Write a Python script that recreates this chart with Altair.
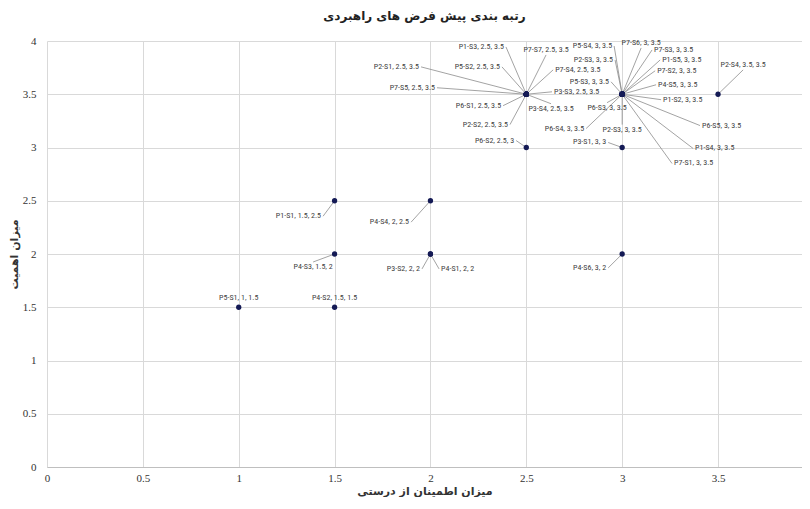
import altair as alt
import pandas as pd

# ---- data ----
names = ["P1-S3", "P2-S1", "P5-S2", "P7-S5", "P6-S1", "P2-S2", "P7-S7", "P7-S4", "P3-S3", "P3-S4",
         "P5-S4", "P7-S6", "P2-S3", "P7-S3", "P1-S5", "P7-S2", "P5-S3", "P4-S5", "P1-S2", "P6-S3",
         "P6-S4", "P2-S3", "P6-S5", "P1-S4", "P7-S1",
         "P3-S1", "P6-S2", "P2-S4", "P1-S1", "P4-S4", "P4-S3", "P3-S2", "P4-S1", "P4-S6", "P5-S1", "P4-S2"]
conf = [2.5, 2.5, 2.5, 2.5, 2.5, 2.5, 2.5, 2.5, 2.5, 2.5,
        3, 3, 3, 3, 3, 3, 3, 3, 3, 3,
        3, 3, 3, 3, 3,
        3, 2.5, 3.5, 1.5, 2, 1.5, 2, 2, 3, 1, 1.5]
imp = [3.5, 3.5, 3.5, 3.5, 3.5, 3.5, 3.5, 3.5, 3.5, 3.5,
       3.5, 3.5, 3.5, 3.5, 3.5, 3.5, 3.5, 3.5, 3.5, 3.5,
       3.5, 3.5, 3.5, 3.5, 3.5,
       3, 3, 3.5, 2.5, 2.5, 2, 2, 2, 2, 1.5, 1.5]

# label anchors (data units) where leader lines meet the labels
label_x = [2.394, 1.951, 2.373, 2.034, 2.379, 2.415, 2.603, 2.640, 2.634, 2.629,
           2.958, 3.099, 2.963, 3.156, 3.198, 3.172, 2.942, 3.177, 3.203, 2.921,
           2.812, 3.000, 3.406, 3.370, 3.260,
           2.927, 2.447, 3.631, 1.440, 1.899, 1.388, 1.956, 2.045, 2.927, 1.0, 1.5]
label_y = [3.944, 3.757, 3.757, 3.561, 3.393, 3.215, 3.869, 3.729, 3.523, 3.411,
           3.953, 3.935, 3.822, 3.916, 3.822, 3.720, 3.617, 3.589, 3.449, 3.421,
           3.178, 3.215, 3.206, 2.991, 2.850,
           3.047, 3.065, 3.729, 2.355, 2.299, 1.925, 1.860, 1.860, 1.869, 1.542, 1.542]
label_side = ["r", "r", "r", "r", "r", "r", "cb", "l", "l", "ct",
              "r", "cb", "r", "l", "l", "l", "r", "l", "l", "ct",
              "r", "ct", "l", "l", "l",
              "r", "r", "cb", "r", "r", "ct", "r", "l", "r", "cb", "cb"]
leader = [True] * 34 + [False, False]

x_ticks = [0, 0.5, 1, 1.5, 2, 2.5, 3, 3.5]
y_ticks = [0, 0.5, 1, 1.5, 2, 2.5, 3, 3.5, 4]

df = pd.DataFrame({
    "name": names, "x": conf, "y": imp,
    "lx": label_x, "ly": label_y, "side": label_side, "leader": leader,
})
df["text"] = [f"{n}, {a:g}, {b:g}" for n, a, b in zip(names, conf, imp)]

tick_font = "Liberation Serif, Times New Roman, DejaVu Serif, serif"
lab_font = "Liberation Sans Narrow, Roboto Condensed, Roboto, sans-serif"
fa_font = "DejaVu Sans"

xscale = alt.Scale(domain=[0, 3.938], nice=False, zero=False)
yscale = alt.Scale(domain=[0, 4], nice=False)

base = alt.Chart(df)

xenc = alt.X("x:Q", scale=xscale, axis=alt.Axis(
    values=x_ticks, format="~g", title="میزان اطمینان از درستی", titleFont=fa_font, titleFontSize=11,
    titleFontWeight="bold", titleColor="#333333", titleY=27, titleBaseline="alphabetic",
    labelFont=tick_font, labelFontSize=11, labelColor="#333333", labelPadding=5,
    ticks=False, domain=True, domainColor="#bfbfbf", grid=True, gridColor="#d9d9d9",
    labelFlush=False))
yenc = alt.Y("y:Q", scale=yscale, axis=alt.Axis(
    values=y_ticks, format="~g", title="میزان اهمیت", titleFont=fa_font, titleFontSize=11,
    titleFontWeight="bold", titleColor="#333333", titleX=-33, titleY=213, titleBaseline="middle",
    labelFont=tick_font, labelFontSize=11, labelColor="#333333", labelPadding=11,
    ticks=False, domain=False, grid=True, gridColor="#d9d9d9", labelFlush=False))

lines = base.transform_filter(alt.datum.leader).mark_rule(
    color="#8c8c8c", strokeWidth=0.8).encode(
    x=alt.X("x:Q", scale=xscale), y=alt.Y("y:Q", scale=yscale), x2="lx:Q", y2="ly:Q")

points = base.mark_circle(size=28, color="#141a55", opacity=1).encode(x=xenc, y=yenc)


def labels(side, align, baseline, dx, dy):
    return base.transform_filter(alt.datum.side == side).mark_text(
        align=align, baseline=baseline, dx=dx, dy=dy, font=lab_font, fontSize=8,
        color="#404040").encode(
        x=alt.X("lx:Q", scale=xscale), y=alt.Y("ly:Q", scale=yscale), text="text:N")


chart = alt.layer(
    lines, points,
    labels("r", "right", "middle", -2, 0),
    labels("l", "left", "middle", 2, 0),
    labels("ct", "center", "top", 0, 1),
    labels("cb", "center", "bottom", 0, -1),
).properties(
    width=755, height=426,
    title=alt.TitleParams("رتبه بندی پیش فرض های راهبردی", font=fa_font, fontSize=12,
                          fontWeight="bold", color="#222222", offset=12),
    autosize=alt.AutoSizeParams(type="none"),
    padding={"left": 39, "top": 33, "right": 0, "bottom": 30},
).configure_view(stroke=None)

chart.save("out.html", embed_options={"renderer": "svg", "actions": False})
